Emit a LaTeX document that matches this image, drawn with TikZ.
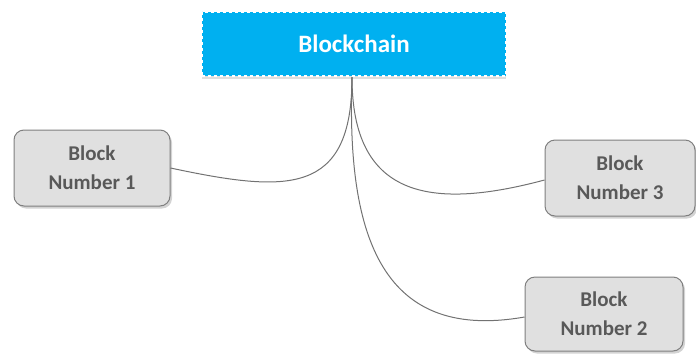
\documentclass[tikz,border=0pt]{standalone}
\usepackage{fontspec}
\setsansfont{Carlito}
\usepackage{tikz}
\usetikzlibrary{shadows}
\tikzset{every picture/.style={/utils/exec={\sffamily\bfseries}}}
\definecolor{chainblue}{HTML}{00B0F0}
\definecolor{blockgray}{HTML}{E0E0E0}
\definecolor{edgegray}{HTML}{7F7F7F}
\definecolor{textgray}{HTML}{595959}

\begin{document}
\begin{tikzpicture}[x=1pt, y=1pt]
  \tikzstyle{chain} = [rectangle, minimum width=304pt, minimum height=64pt, fill=chainblue, text=white,
    preaction={draw=chainblue, line width=2.5pt}, draw=white, line width=2.5pt, dash pattern=on 3pt off 3pt,
    drop shadow={opacity=0.25, shadow xshift=0pt, shadow yshift=-3pt},
    font=\fontsize{25}{30}\selectfont\bfseries]
  \tikzstyle{block} = [rectangle, rounded corners=10pt, minimum height=76pt, text centered, align=center,
    fill=blockgray, draw=edgegray, line width=1pt, text=textgray,
    drop shadow={opacity=0.35, shadow xshift=2pt, shadow yshift=-2.5pt},
    font=\fontsize{21}{29}\selectfont\bfseries]

  \tikzstyle{link} = [draw=edgegray!90!black, line width=1pt]

  \useasboundingbox (0,0) rectangle (696,-354);

  \node (chain) [chain] at (354,-44) {Blockchain};
  \node (block1) [block, minimum width=156pt] at (92,-168) {Block\\Number 1};
  \node (block3) [block, minimum width=150pt] at (620,-178) {Block\\Number 3};
  \node (block2) [block, minimum width=158pt, minimum height=74pt] at (604,-314) {Block\\Number 2};

  % all three start at the bottom of the blue box
  \draw [link] ([xshift=-2pt]chain.south) to[out=-90, in=-12, looseness=1.5] (block1.east);
  \draw [link] ([xshift=-2pt]chain.south) to[out=-90, in=195, looseness=1.4] ([yshift=-2pt]block3.west);
  \draw [link] ([xshift=-2pt]chain.south) to[out=-92, in=190, looseness=1.3] ([yshift=-3pt]block2.west);
\end{tikzpicture}
\end{document}
